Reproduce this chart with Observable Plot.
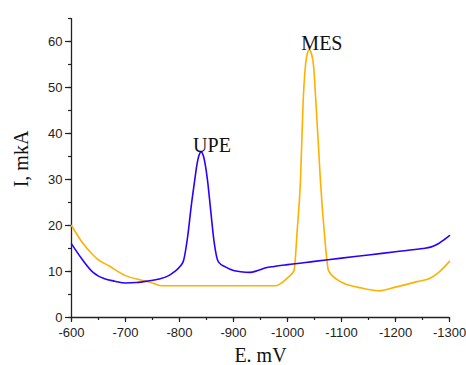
<!DOCTYPE html>
<html>
<head>
<meta charset="utf-8">
<script src="https://cdn.jsdelivr.net/npm/d3@7"></script>
<script src="https://cdn.jsdelivr.net/npm/@observablehq/plot@0.6"></script>
<style>
  html, body { margin: 0; padding: 0; background: #fff; }
</style>
</head>
<body>
<div id="chart"></div>
<script>
// Potential, mV
const upeE = [-600, -620, -640, -650, -660, -680, -700, -720, -740, -760, -780, -790, -800, -807, -815, -822, -828, -832, -836, -840, -844, -848, -852, -858, -864, -872, -885, -900, -913, -930, -945, -960, -975, -1000, -1050, -1100, -1150, -1200, -1250, -1265, -1280, -1290, -1300];
const upeI = [16, 12.6, 9.8, 9.0, 8.5, 7.9, 7.5, 7.6, 7.9, 8.3, 9.1, 9.9, 11.0, 12.2, 17.5, 24.5, 29.7, 33.0, 35.2, 36.0, 35.2, 33.0, 29.7, 23.0, 16.5, 12.1, 11.0, 10.2, 9.95, 9.8, 10.2, 10.8, 11.1, 11.5, 12.2, 12.9, 13.6, 14.3, 15.0, 15.3, 16.1, 16.9, 17.8];

const mesE = [-600, -620, -640, -648, -670, -700, -730, -750, -768, -800, -900, -978, -990, -1000, -1012, -1018, -1024, -1029, -1033, -1037, -1040.5, -1044, -1048.5, -1052.5, -1057, -1061, -1068.5, -1076, -1090, -1107, -1130, -1169, -1200, -1240, -1265, -1280, -1300];
const mesI = [20, 16.3, 13.6, 12.7, 11.2, 9.1, 8.1, 7.5, 6.9, 6.9, 6.9, 6.9, 7.6, 8.6, 10.2, 19, 29.7, 47, 54.4, 57.5, 58.2, 57.5, 54.4, 47, 38, 29.7, 18, 10.2, 8.4, 7.3, 6.6, 5.8, 6.6, 7.8, 8.6, 9.8, 12.2];

const peakNames = ["UPE", "MES"];
const peakE = [-840, -1040.5];
const peakI = [36.0, 58.2];

const xTicks = [-600, -700, -800, -900, -1000, -1100, -1200, -1300];
const yTicks = [0, 10, 20, 30, 40, 50, 60];

const upe = upeE.map((e, i) => ({E: e, I: upeI[i]}));
const mes = mesE.map((e, i) => ({E: e, I: mesI[i]}));
const peaks = peakNames.map((n, i) => ({name: n, E: peakE[i], I: peakI[i]}));

const serif = "'Liberation Serif', 'Times New Roman', serif";

const chart = Plot.plot({
  width: 466,
  height: 365,
  marginLeft: 71,
  marginRight: 17,
  marginTop: 18,
  marginBottom: 48,
  style: {background: "#fff", color: "#222", fontFamily: "'Liberation Sans', Arial, sans-serif", fontSize: "13px"},
  x: {domain: [-600, -1300]},
  y: {domain: [0, 65]},
  marks: [
    // minor ticks
    Plot.axisX({ticks: d3.range(-600, -1301, -50), tickSize: 3, text: null, label: null, strokeWidth: 1.2}),
    Plot.axisY({ticks: d3.range(0, 66, 5), tickSize: 3, text: null, label: null, strokeWidth: 1.2}),
    // major ticks with labels
    Plot.axisX({ticks: xTicks, tickSize: 5, tickPadding: 5, tickFormat: d => String(d).replace("\u2212", "-"), label: null, strokeWidth: 1.2, fontSize: 13}),
    Plot.axisY({ticks: yTicks, tickSize: 6, tickPadding: 3, label: null, strokeWidth: 1.2, fontSize: 13}),
    Plot.ruleX([-600], {stroke: "#222", strokeWidth: 1.3}),
    Plot.ruleY([0], {stroke: "#222", strokeWidth: 1.3}),
    Plot.line(mes, {x: "E", y: "I", stroke: "#ffb000", strokeWidth: 1.6, curve: "monotone-x"}),
    Plot.line(upe, {x: "E", y: "I", stroke: "#2a00ff", strokeWidth: 1.6, curve: "monotone-x"}),
    Plot.text(peaks, {x: "E", y: "I", text: "name", textAnchor: "start", lineAnchor: "bottom", dx: -8, dy: 0, fontFamily: serif, fontSize: 20, fill: "#111"}),
    Plot.text(["E. mV"], {frameAnchor: "bottom", textAnchor: "middle", dy: 38, lineAnchor: "middle", fontFamily: serif, fontSize: 20, fill: "#111"}),
    Plot.text(["I, mkA"], {frameAnchor: "left", textAnchor: "middle", dx: -50, dy: -9, rotate: -90, lineAnchor: "middle", fontFamily: serif, fontSize: 20, fill: "#111"})
  ]
});
document.getElementById("chart").appendChild(chart);
</script>
</body>
</html>
